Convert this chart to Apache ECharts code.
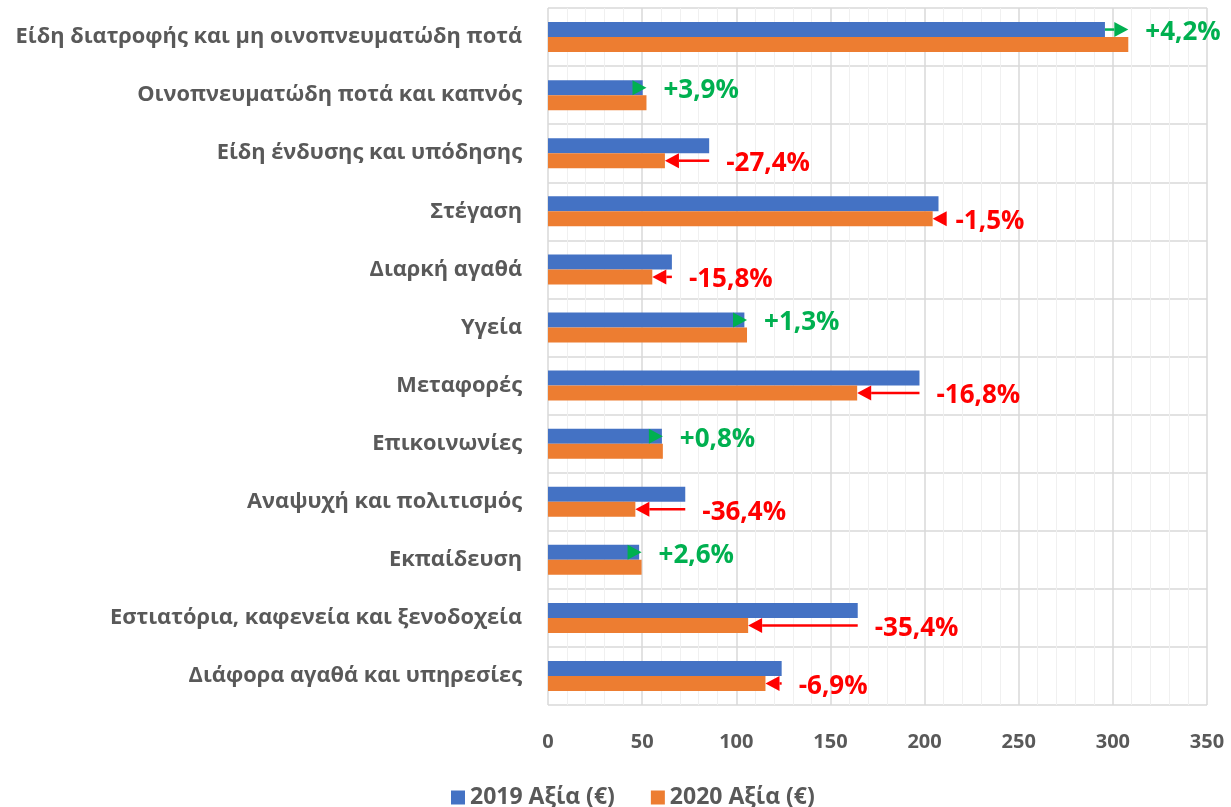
<!DOCTYPE html>
<html>
<head>
<meta charset="utf-8">
</head>
<body style="margin: 0">
<div id="container" style="width: 1231px; height: 807px"></div>
<script src="https://cdn.jsdelivr.net/npm/echarts@6/dist/echarts.min.js"></script>
<script>
var categories = ['Είδη διατροφής και μη οινοπνευματώδη ποτά', 'Οινοπνευματώδη ποτά και καπνός', 'Είδη ένδυσης και υπόδησης', 'Στέγαση', 'Διαρκή αγαθά', 'Υγεία', 'Μεταφορές', 'Επικοινωνίες', 'Αναψυχή και πολιτισμός', 'Εκπαίδευση', 'Εστιατόρια, καφενεία και ξενοδοχεία', 'Διάφορα αγαθά και υπηρεσίες'];
var values2019 = [295.8, 50.3, 85.6, 207.4, 65.8, 104.3, 197.3, 60.5, 72.9, 48.4, 164.5, 124.1];
var values2020 = [308.2, 52.3, 62.1, 204.3, 55.4, 105.7, 164.2, 61.0, 46.4, 49.7, 106.3, 115.5];
var changeLabels = ['+4,2%', '+3,9%', '-27,4%', '-1,5%', '-15,8%', '+1,3%', '-16,8%', '+0,8%', '-36,4%', '+2,6%', '-35,4%', '-6,9%'];
var seriesNames = ['2019 Αξία (€)', '2020 Αξία (€)'];

var FONT = '"Open Sans", "Noto Sans", sans-serif';

var arrowData = [];
for (var i = 0; i < categories.length; i++) {
    arrowData.push([i, values2019[i], values2020[i]]);
}

// arrow from the 2019 value to the 2020 value, with the % change after it
function renderArrow(params, api) {
    var idx = api.value(0);
    var from = api.coord([api.value(1), idx]);
    var to = api.coord([api.value(2), idx]);
    var up = api.value(2) >= api.value(1);
    var y = from[1] + (up ? -7.5 : 7.5);
    var color = up ? '#00b050' : '#ff0000';
    var dir = up ? 1 : -1;
    var head = 14, half = 7.5;
    var baseX = to[0] - dir * head;
    var children = [];
    if ((baseX - from[0]) * dir > 0) {
        children.push({
            type: 'line',
            shape: {x1: from[0], y1: y, x2: baseX, y2: y},
            style: {stroke: color, lineWidth: 2.5}
        });
    }
    children.push({
        type: 'polygon',
        shape: {points: [[to[0], y], [baseX, y - half], [baseX, y + half]]},
        style: {fill: color}
    });
    children.push({
        type: 'text',
        style: {
            x: Math.max(from[0], to[0]) + 17,
            y: y + 3,
            text: changeLabels[idx],
            fill: color,
            fontSize: 26,
            fontWeight: 'bold',
            fontFamily: FONT,
            verticalAlign: 'middle'
        }
    });
    return {type: 'group', children: children};
}

var myChart = echarts.init(document.getElementById('container'));
var option = {
    animation: false,
    grid: {left: 548, right: 24, top: 8, bottom: 102},
    legend: {
        top: 781,
        left: 446,
        itemWidth: 14,
        itemHeight: 14,
        itemGap: 36,
        icon: 'rect',
        data: seriesNames,
        textStyle: {color: '#595959', fontSize: 23, fontWeight: 'bold', fontFamily: FONT}
    },
    xAxis: {
        type: 'value',
        min: 0,
        max: 350,
        interval: 50,
        axisLine: {show: false},
        axisTick: {show: false},
        axisLabel: {color: '#595959', fontSize: 20, fontWeight: 'bold', fontFamily: FONT, margin: 27},
        splitLine: {lineStyle: {color: '#d9d9d9', width: 1.5}},
        minorTick: {show: false, splitNumber: 5},
        minorSplitLine: {show: true, lineStyle: {color: '#f0f0f0', width: 1}}
    },
    yAxis: [{
        type: 'category',
        data: categories,
        inverse: true,
        axisLine: {show: false},
        axisTick: {show: false},
        axisLabel: {color: '#595959', fontSize: 21.8, fontWeight: 'bold', fontFamily: FONT, margin: 26},
        splitLine: {show: true, lineStyle: {color: '#d9d9d9', width: 1.5}}
    }, {
        type: 'value',
        min: 0,
        max: 24,
        interval: 1,
        show: false,
        splitLine: {show: true, lineStyle: {color: '#ececec', width: 1}}
    }],
    series: [{
        name: seriesNames[0],
        type: 'bar',
        data: values2019,
        barWidth: 15,
        barGap: '0%',
        itemStyle: {color: '#4472c4'}
    }, {
        name: seriesNames[1],
        type: 'bar',
        data: values2020,
        barWidth: 15,
        barGap: '0%',
        itemStyle: {color: '#ed7d31'}
    }, {
        type: 'custom',
        renderItem: renderArrow,
        data: arrowData,
        encode: {x: [1, 2], y: 0},
        z: 10,
        silent: true
    }]
};
myChart.setOption(option);
</script>
</body>
</html>
